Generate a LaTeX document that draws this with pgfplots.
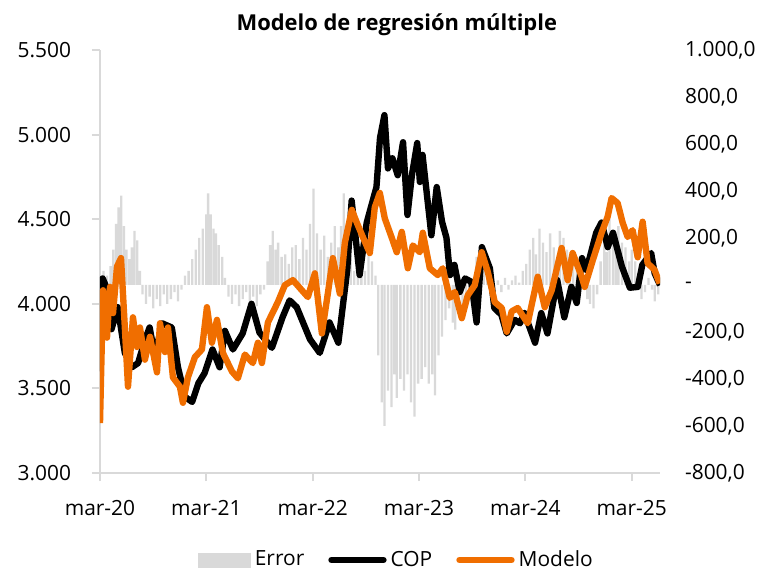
\documentclass[border=0pt]{standalone}
\usepackage{fontspec}
\setmainfont{Open Sans}
\usepackage{pgfplots}
\pgfplotsset{compat=1.18}
\definecolor{modelo}{RGB}{240,110,0}
\definecolor{err}{RGB}{217,217,217}
\definecolor{axgray}{RGB}{217,217,217}

% x = months since mar-20
\pgfplotstableread{
m e
0.0 20
0.4 60
0.8 40
1.2 80
1.5 150
1.8 260
2.1 330
2.4 380
2.7 250
3.0 150
3.3 110
3.6 160
3.9 230
4.2 190
4.5 60
4.8 -40
5.2 -80
5.6 -50
6.0 -100
6.4 -60
6.8 -90
7.2 -40
7.6 -80
8.0 -60
8.4 -30
8.8 -70
9.2 -20
9.6 40
10.0 60
10.4 110
10.8 150
11.2 200
11.6 240
12.0 300
12.2 390
12.5 300
12.8 240
13.1 220
13.4 170
13.8 120
14.1 30
14.5 -50
14.9 -80
15.3 -40
15.7 -90
16.1 -60
16.5 -30
16.9 -70
17.3 -50
17.7 -90
18.1 -40
18.5 -20
18.9 100
19.2 170
19.5 230
19.8 150
20.1 180
20.5 120
20.9 130
21.3 90
21.7 160
22.1 170
22.5 110
22.9 200
23.3 150
23.7 260
24.1 410
24.5 220
24.9 150
25.3 210
25.7 120
26.1 180
26.5 250
26.9 160
27.2 250
27.5 390
27.9 200
28.3 120
28.7 60
29.1 90
29.5 140
29.9 60
30.3 160
30.7 100
31.1 40
31.4 -300
31.8 -500
32.1 -600
32.5 -450
32.9 -520
33.2 -380
33.5 -480
33.9 -400
34.3 -450
34.7 -380
35.1 -500
35.5 -560
35.9 -420
36.3 -400
36.7 -350
37.1 -420
37.5 -380
37.8 -470
38.2 -300
38.6 -220
39.0 -150
39.4 -100
39.8 -160
40.1 -190
40.5 -120
40.9 -80
41.3 -60
41.7 -30
42.1 20
42.5 120
42.9 60
43.3 170
43.7 30
44.1 -20
44.5 -40
44.9 20
45.3 -30
45.7 30
46.1 -20
46.5 20
46.9 40
47.3 10
47.7 60
48.1 90
48.5 150
48.9 200
49.2 130
49.6 240
50.0 180
50.4 140
50.8 220
51.2 160
51.6 120
51.9 230
52.3 200
52.7 150
53.0 120
53.4 80
53.8 100
54.2 40
54.6 -20
55.0 -60
55.3 -80
55.7 -100
56.1 -40
56.5 100
56.9 200
57.2 140
57.5 280
57.9 220
58.2 150
58.5 250
58.9 180
59.3 160
59.7 100
60.0 150
60.4 100
60.8 40
61.1 -60
61.5 -30
61.9 30
62.3 -20
62.6 -70
63.0 -40
}\errtab

\pgfplotstableread{
m v
0.0 3600
0.3 4150
0.7 4100
1.3 3850
2.0 3980
2.8 3710
3.6 3625
4.3 3650
5.1 3790
5.6 3860
6.2 3690
7.0 3885
8.1 3860
8.8 3625
9.6 3450
10.4 3420
11.1 3530
11.8 3590
12.7 3730
13.5 3625
14.1 3840
15.0 3730
16.1 3825
17.1 4000
18.0 3830
19.4 3740
20.6 3920
21.4 4020
22.2 3980
23.7 3790
24.8 3710
25.9 3890
26.9 3770
27.9 4200
28.4 4610
29.3 4170
30.1 4480
31.2 4690
31.6 4980
32.1 5115
32.5 4800
33.0 4860
33.6 4760
34.2 4955
34.7 4525
35.2 4760
35.8 4950
36.1 4720
36.4 4880
37.4 4405
38.0 4690
38.6 4485
39.1 4390
39.5 4170
40.0 4230
40.6 4070
41.2 4150
41.9 4130
42.5 3890
43.1 4335
44.0 4210
44.5 3975
45.3 3935
45.9 3825
46.8 3905
47.4 3885
47.9 3945
49.1 3770
49.8 3945
50.5 3825
51.6 4140
52.4 3920
53.2 4100
53.8 4005
54.4 4270
54.9 4200
56.0 4420
56.6 4480
57.3 4335
57.9 4420
58.9 4220
59.8 4095
60.7 4100
61.2 4230
62.2 4300
62.6 4180
63.2 4110
}\coptab

\pgfplotstableread{
m v
0.0 3295
0.34 4080
0.79 3800
1.13 4100
1.47 3945
1.92 4220
2.37 4270
2.82 3845
3.16 3510
3.72 3920
4.17 3745
4.51 3860
5.07 3670
5.64 3805
6.43 3595
6.77 3885
7.33 3715
7.67 3860
8.23 3565
9.02 3510
9.36 3415
9.92 3565
10.71 3685
11.5 3730
12.07 3980
12.63 3770
13.2 3905
13.87 3710
14.89 3600
15.56 3560
16.35 3700
17.25 3650
17.82 3770
18.27 3650
18.95 3890
20.07 4010
20.86 4110
21.77 4140
22.78 4080
23.46 4040
24.25 4180
25.04 3825
25.71 4060
26.28 4270
27.07 4060
27.63 4360
28.42 4555
28.98 4480
29.66 4395
30.45 4300
31.01 4570
31.58 4655
32.14 4505
32.93 4390
33.49 4305
34.06 4425
34.74 4210
35.3 4345
36.09 4305
36.43 4420
37.22 4210
38.12 4170
38.68 4210
39.47 4035
40.04 4070
40.83 3915
41.5 4050
42.29 4110
43.08 4305
43.76 4190
44.55 4010
45.34 3975
45.9 3835
46.46 3955
47.14 3975
48.27 3885
49.4 4160
50.19 3980
50.98 4080
52.1 4330
52.78 4140
53.34 4300
54.36 4160
54.7 4100
55.6 4255
56.61 4420
57.29 4515
57.74 4625
58.42 4595
58.98 4480
59.55 4395
60.11 4435
60.68 4275
61.24 4485
61.8 4240
62.59 4200
63.16 4120
}\modtab

\begin{document}
\begin{tikzpicture}
\useasboundingbox (-50bp,-48bp) rectangle (339bp,236.5bp);
% right axis: error bars
\begin{axis}[
  at={(0,0)}, anchor=south west,
  scale only axis, width=280bp, height=211.5bp,
  xmin=0, xmax=63.2, ymin=-800, ymax=1000,
  axis y line*=right, axis x line=none,
  y axis line style={draw=none},
  ytick={-800,-600,...,1000},
  yticklabels={{-800,0},{-600,0},{-400,0},{-200,0},{-},{200,0},{400,0},{600,0},{800,0},{1.000,0}},
  major tick length=0pt,
  yticklabel style={anchor=west, font=\fontsize{10.5}{12}\selectfont, xshift=9bp},
]
\addplot[ybar, bar width=0.26, fill=err, draw=none] table[x=m, y=e] {\errtab};
\end{axis}
% left axis: COP and Modelo
\begin{axis}[
  at={(0,0)}, anchor=south west,
  scale only axis, width=280bp, height=211.5bp,
  xmin=0, xmax=63.2, ymin=3000, ymax=5500,
  axis x line*=bottom, axis y line*=left,
  axis line style={axgray, line width=1bp, -},
  tick style={axgray, line width=1bp},
  tick align=outside, major tick length=4bp,
  xtick={0,12,24,36,48,60},
  xticklabels={mar-20,mar-21,mar-22,mar-23,mar-24,mar-25},
  ytick={3000,3500,4000,4500,5000,5500},
  yticklabels={3.000,3.500,4.000,4.500,5.000,5.500},
  tick label style={font=\fontsize{10.5}{12}\selectfont, black},
  xticklabel style={yshift=-6bp},
  yticklabel style={xshift=-7bp},
  title={Modelo de regresión múltiple},
  title style={font=\bfseries\fontsize{11}{13}\selectfont, anchor=base, at={(0.53,1)}, yshift=4bp},
  legend columns=-1,
  legend image code/.code={\draw[#1, line cap=round] (0bp,0bp) -- (26bp,0bp);},
  legend style={draw=none, at={(0.531,0)}, anchor=center, yshift=-43.5bp,
    font=\fontsize{10.5}{12}\selectfont,
    /tikz/every even column/.append style={column sep=10bp}},
]
\addlegendimage{legend image code/.code={\fill[err] (0bp,-3.5bp) rectangle (26bp,3.5bp);}}
\addlegendentry{Error}
\addplot[black, line width=3.2pt, line join=round] table[x=m, y=v] {\coptab};
\addlegendentry{COP}
\addplot[modelo, line width=3.2pt, line join=round] table[x=m, y=v] {\modtab};
\addlegendentry{Modelo}
\end{axis}
\end{tikzpicture}
\end{document}
